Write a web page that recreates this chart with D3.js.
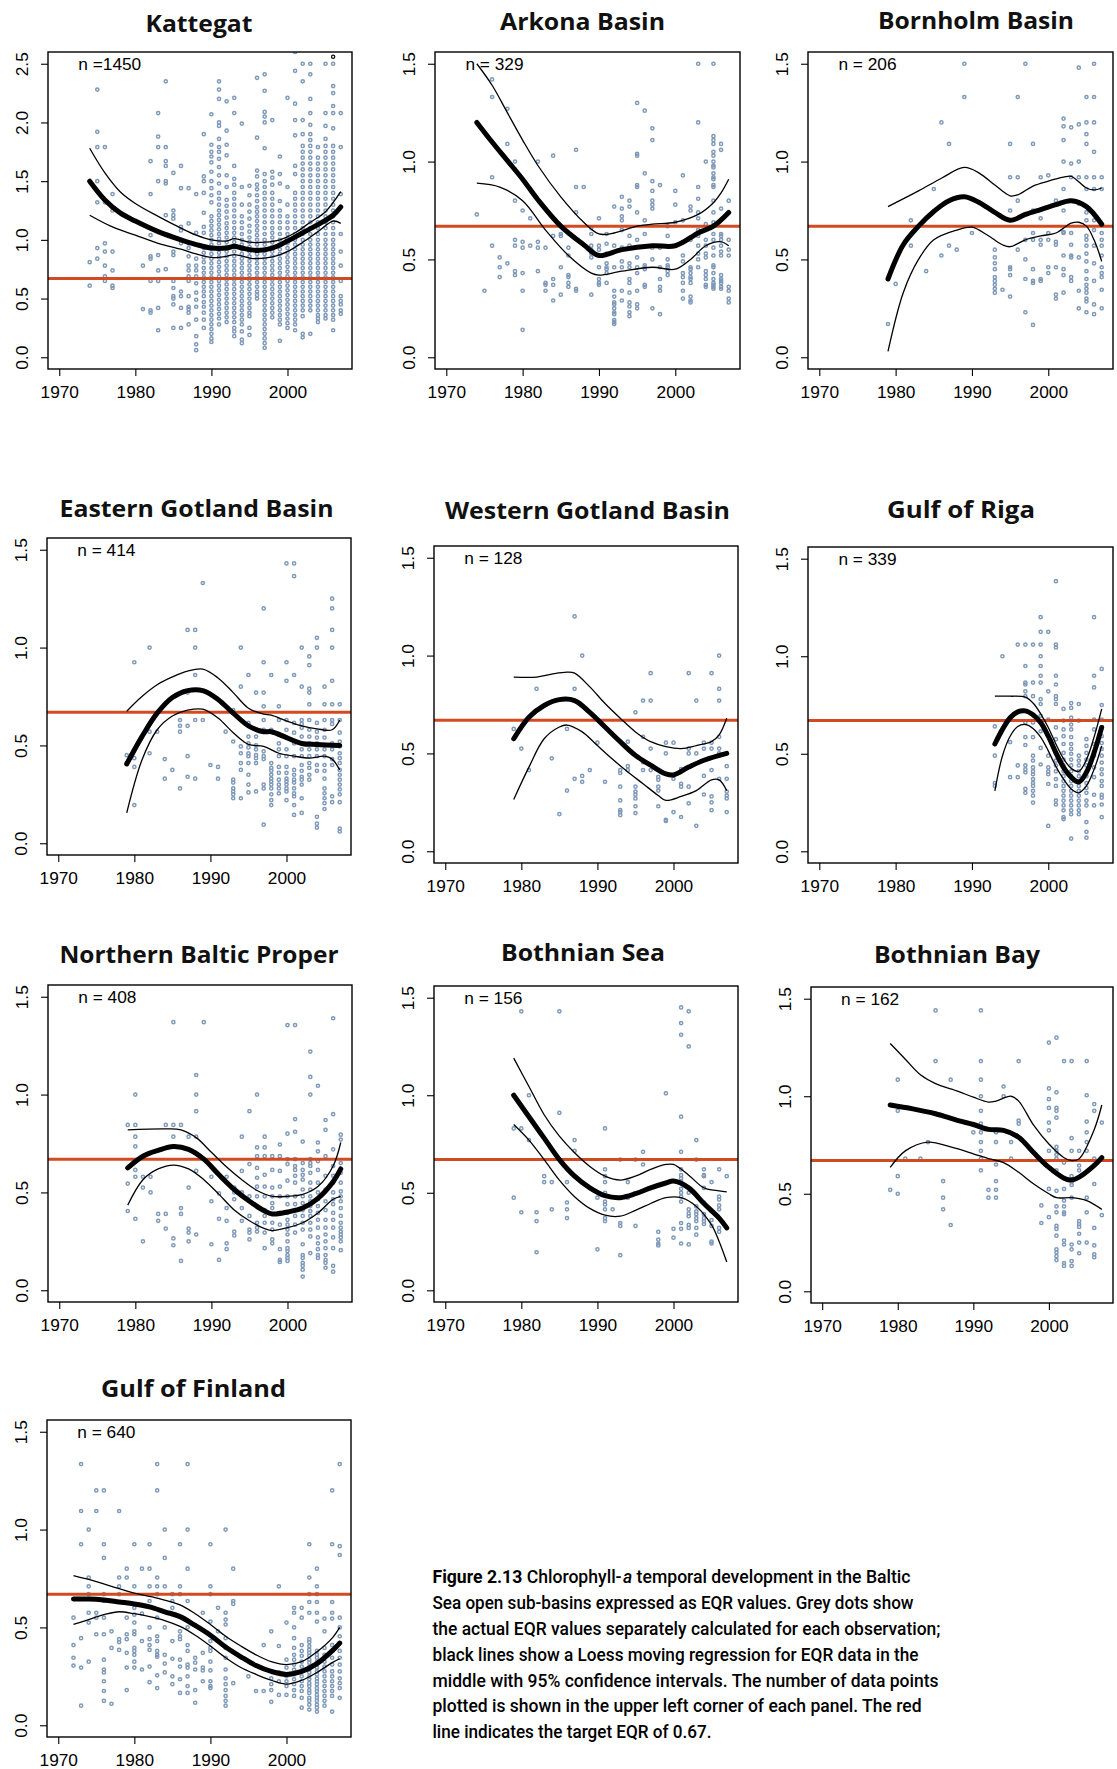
<!DOCTYPE html>
<html>
<head>
<meta charset="utf-8">
<script src="https://cdn.jsdelivr.net/npm/d3@7"></script>
<style>
  body { margin: 0; background: #fff; }
  svg { display: block; }
</style>
</head>
<body>
<svg id="fig" width="1117" height="1769"></svg>
<script>
// ---------------------------------------------------------------
// Chlorophyll-a EQR by sub-basin: observations, Loess fit, 95% CI
// ---------------------------------------------------------------
const basinNames = ["Kattegat", "Arkona Basin", "Bornholm Basin",
  "Eastern Gotland Basin", "Western Gotland Basin", "Gulf of Riga",
  "Northern Baltic Proper", "Bothnian Sea", "Bothnian Bay", "Gulf of Finland"];
const sampleCounts = [1450, 329, 206, 414, 128, 339, 408, 156, 162, 640];
const xTickYears = [1970, 1980, 1990, 2000];
const yTicksWide = [0, 0.5, 1.0, 1.5, 2.0, 2.5];
const yTicksStd = [0, 0.5, 1.0, 1.5];
const targetEQR = 0.67;

// observations: [year, [EQR values]]
const kattegatObs = [
  [1974,[0.81,0.61]],
  [1975,[2.28,1.92,1.79,1.50,1.32,0.93,0.84]],
  [1976,[1.79,1.32,0.97,0.90,0.78,0.69,0.65]],
  [1977,[1.39,1.25,0.90,0.74,0.61,0.59]],
  [1981,[0.78,0.41]],
  [1982,[1.67,1.39,1.04,0.86,0.84,0.65,0.40,0.38]],
  [1983,[2.08,1.88,1.79,1.50,0.87,0.74,0.65,0.42,0.23]],
  [1984,[2.35,1.79,1.67,1.63,1.50,1.48,1.21,0.75]],
  [1985,[1.57,1.25,1.21,1.18,0.90,0.87,0.65,0.59,0.52,0.50,0.45,0.25]],
  [1986,[1.63,1.44,1.11,1.08,0.97,0.56,0.52,0.42,0.25]],
  [1987,[1.44,1.14,0.97,0.93,0.86,0.78,0.74,0.69,0.65,0.52,0.43,0.41,0.38,0.28]],
  [1988,[1.39,1.06,0.84,0.78,0.74,0.69,0.63,0.55,0.49,0.43,0.32,0.18,0.11,0.06]],
  [1989,[1.90,1.54,1.50,1.40,1.23,1.11,1.06,0.93,0.89,0.85,0.81,0.76,0.72,0.68,0.64,0.60,0.56,0.52,0.47,0.43,0.38,0.32,0.25]],
  [1990,[2.07,1.81,1.75,1.71,1.66,1.58,1.50,1.44,1.38,1.32,1.20,1.16,1.12,1.08,1.04,1.00,0.96,0.92,0.88,0.84,0.80,0.76,0.72,0.68,0.64,0.60,0.56,0.52,0.48,0.44,0.40,0.36,0.32,0.28,0.24,0.20,0.16,0.13]],
  [1991,[2.35,2.28,2.20,2.00,1.97,1.86,1.79,1.75,1.69,1.62,1.55,1.48,1.40,1.35,1.30,1.25,1.21,1.17,1.13,1.09,1.05,1.01,0.97,0.93,0.89,0.85,0.81,0.77,0.73,0.69,0.65,0.61,0.57,0.53,0.49,0.45,0.41,0.37,0.33,0.28]],
  [1992,[2.18,1.93,1.81,1.72,1.55,1.45,1.34,1.29,1.24,1.19,1.14,1.10,1.06,1.02,0.98,0.94,0.90,0.86,0.82,0.78,0.74,0.70,0.66,0.62,0.58,0.54,0.50,0.46,0.42,0.38,0.34,0.30]],
  [1993,[2.21,2.08,1.63,1.52,1.47,1.40,1.35,1.30,1.25,1.20,1.15,1.10,1.06,1.02,0.98,0.94,0.90,0.86,0.82,0.78,0.74,0.70,0.66,0.62,0.58,0.54,0.50,0.46,0.42,0.38,0.34,0.30,0.25,0.22,0.18]],
  [1994,[1.99,1.45,1.30,1.20,1.15,1.10,1.05,1.00,0.96,0.92,0.88,0.84,0.80,0.76,0.72,0.68,0.64,0.60,0.56,0.52,0.48,0.44,0.40,0.36,0.32,0.28,0.22,0.15,0.12]],
  [1995,[1.46,1.38,1.30,1.24,1.18,1.12,1.07,1.02,0.98,0.94,0.90,0.86,0.82,0.78,0.74,0.70,0.66,0.62,0.58,0.54,0.50,0.46,0.42,0.38,0.35,0.25,0.19]],
  [1996,[2.38,1.87,1.59,1.54,1.47,1.43,1.38,1.33,1.28,1.24,1.20,1.16,1.12,1.08,1.04,1.00,0.96,0.92,0.88,0.84,0.80,0.76,0.72,0.68,0.64,0.60,0.56,0.53,0.50]],
  [1997,[2.41,2.27,2.09,2.05,2.00,1.78,1.56,1.50,1.45,1.40,1.35,1.30,1.25,1.20,1.15,1.10,1.05,1.00,0.96,0.92,0.88,0.84,0.80,0.76,0.72,0.68,0.64,0.60,0.56,0.52,0.48,0.44,0.40,0.36,0.32,0.28,0.24,0.20,0.16,0.12,0.08]],
  [1998,[2.02,1.58,1.53,1.47,1.40,1.35,1.30,1.25,1.20,1.15,1.10,1.06,1.02,0.98,0.94,0.90,0.86,0.82,0.78,0.74,0.70,0.66,0.62,0.58,0.54,0.50,0.46,0.42,0.38,0.34]],
  [1999,[1.71,1.56,1.48,1.33,1.25,1.20,1.15,1.10,1.05,1.00,0.96,0.92,0.88,0.84,0.80,0.76,0.72,0.68,0.64,0.60,0.56,0.52,0.48,0.44,0.40,0.36,0.32,0.28,0.14]],
  [2000,[2.21,1.45,1.30,1.20,1.15,1.10,1.05,1.01,0.97,0.93,0.89,0.85,0.81,0.77,0.73,0.69,0.65,0.61,0.57,0.53,0.49,0.45,0.41,0.37,0.33,0.29,0.25]],
  [2001,[2.60,2.44,2.16,2.02,1.89,1.63,1.56,1.40,1.35,1.30,1.25,1.20,1.15,1.10,1.05,1.00,0.96,0.92,0.88,0.84,0.80,0.76,0.72,0.68,0.64,0.60,0.56,0.52,0.48,0.44,0.40,0.36,0.32,0.28,0.23]],
  [2002,[2.50,2.35,2.02,1.90,1.80,1.75,1.70,1.65,1.60,1.55,1.50,1.45,1.40,1.35,1.30,1.25,1.20,1.15,1.10,1.05,1.00,0.96,0.92,0.88,0.84,0.80,0.76,0.72,0.68,0.64,0.60,0.56,0.52,0.48,0.44,0.40,0.35,0.20,0.17]],
  [2003,[2.50,2.41,2.20,2.08,1.98,1.90,1.85,1.80,1.75,1.70,1.65,1.60,1.55,1.50,1.45,1.40,1.35,1.30,1.25,1.20,1.15,1.10,1.05,1.00,0.96,0.92,0.88,0.84,0.80,0.76,0.72,0.68,0.64,0.60,0.56,0.52,0.48,0.44,0.40,0.20]],
  [2004,[1.79,1.70,1.65,1.60,1.55,1.50,1.45,1.40,1.35,1.30,1.25,1.20,1.15,1.10,1.05,1.00,0.96,0.92,0.88,0.84,0.80,0.76,0.72,0.68,0.64,0.60,0.56,0.52,0.48,0.44,0.40,0.36,0.33,0.30]],
  [2005,[2.50,2.08,1.97,1.86,1.80,1.75,1.70,1.65,1.60,1.55,1.50,1.45,1.40,1.35,1.30,1.25,1.20,1.15,1.10,1.05,1.00,0.96,0.92,0.88,0.84,0.80,0.76,0.72,0.68,0.64,0.60,0.56,0.52,0.48,0.44,0.40,0.36,0.33]],
  [2006,[2.50,2.31,2.25,2.14,2.08,1.95,1.80,1.75,1.70,1.65,1.60,1.55,1.50,1.45,1.40,1.35,1.30,1.25,1.20,1.15,1.10,1.05,1.00,0.96,0.92,0.88,0.84,0.80,0.76,0.72,0.68,0.64,0.60,0.56,0.52,0.48,0.44,0.40,0.36,0.32,0.23]],
  [2007,[2.08,1.79,1.39,1.05,0.90,0.78,0.65,0.52,0.48,0.45,0.40,0.37]]
];
const kattegatFlagged = [[2006, 2.56]];

const arkonaObs = [
  [1974,[0.73]],[1975,[0.34]],[1976,[1.42,1.33,0.92,0.57]],[1977,[0.51,0.46,0.41]],
  [1978,[1.27,1.09,0.48]],[1979,[1.00,0.96,0.80,0.60,0.57,0.44,0.42]],
  [1980,[0.75,0.59,0.56,0.43,0.34,0.14]],[1981,[0.71,0.57]],[1982,[1.00,0.59,0.56,0.44]],
  [1983,[0.56,0.38,0.37,0.34]],[1984,[1.03,0.62,0.40,0.37,0.29]],[1985,[0.63,0.62,0.46,0.32]],
  [1986,[0.56,0.52,0.42,0.41,0.38,0.36]],[1987,[1.06,0.87,0.74,0.35,0.34]],[1988,[0.87]],
  [1989,[0.66,0.63,0.57,0.55,0.53,0.51,0.32]],[1990,[0.71,0.57,0.55,0.52,0.46,0.40,0.38,0.37]],
  [1991,[0.63,0.58,0.53,0.48,0.46,0.45,0.43,0.38]],
  [1992,[0.77,0.57,0.46,0.34,0.31,0.28,0.27,0.25,0.23,0.22,0.19,0.18,0.17]],
  [1993,[0.82,0.76,0.72,0.70,0.65,0.56,0.49,0.46,0.34,0.29]],
  [1994,[0.80,0.77,0.62,0.57,0.48,0.46,0.40,0.38,0.33,0.28,0.26,0.23,0.21]],
  [1995,[1.30,1.04,1.03,0.88,0.87,0.74,0.60,0.51,0.46,0.43,0.34,0.27,0.25]],
  [1996,[1.26,0.94,0.70,0.63,0.47,0.46,0.45,0.37,0.36]],
  [1997,[1.17,1.11,0.90,0.85,0.80,0.78,0.76,0.56,0.50,0.25]],
  [1998,[0.88,0.56,0.46,0.40,0.36,0.34,0.22]],[1999,[0.67,0.62,0.50,0.47,0.46,0.44,0.42]],
  [2000,[0.85,0.78,0.69]],[2001,[0.93,0.70,0.52,0.49,0.43,0.41,0.38,0.34,0.30]],
  [2002,[0.77,0.75,0.60,0.46,0.45,0.43,0.41,0.40,0.38,0.31,0.29,0.28]],
  [2003,[1.50,1.20,0.87,0.81,0.74,0.71,0.65,0.62,0.57,0.53,0.50,0.46]],
  [2004,[1.00,0.68,0.60,0.57,0.53,0.51,0.44,0.42,0.40,0.37,0.36]],
  [2005,[1.50,1.13,1.11,1.09,1.05,1.03,1.00,0.98,0.97,0.94,0.92,0.91,0.88,0.87,0.80,0.74,0.69,0.63,0.60,0.56,0.52,0.47,0.46,0.43,0.40,0.38,0.37,0.36,0.35]],
  [2006,[1.09,1.06,0.76,0.63,0.62,0.60,0.57,0.54,0.52,0.42,0.40,0.39,0.38,0.36,0.35]],
  [2007,[0.80,0.60,0.55,0.52,0.36,0.34,0.30,0.28]]
];

const bornholmObs = [
  [1979,[0.17]],[1980,[0.375]],[1982,[0.70,0.57]],[1984,[0.44]],[1985,[0.86]],
  [1986,[1.20,0.52]],[1987,[1.09,0.57]],[1988,[0.55]],[1989,[1.50,1.33]],[1990,[0.635]],
  [1993,[0.55,0.51,0.48,0.45,0.41,0.39,0.37,0.35,0.33]],[1994,[0.345]],
  [1995,[1.09,0.92,0.75,0.46,0.45,0.42,0.31]],[1996,[1.33,0.92,0.80,0.55]],
  [1997,[1.50,0.60,0.50,0.40,0.23]],[1998,[1.09,0.75,0.635,0.60,0.45,0.39,0.38,0.165]],
  [1999,[0.92,0.71,0.60,0.575,0.40,0.39]],[2000,[0.93,0.635,0.60,0.46,0.43]],
  [2001,[0.80,0.59,0.575,0.46,0.32,0.30]],
  [2002,[1.22,1.18,1.11,1.00,0.86,0.75,0.64,0.635,0.52,0.45,0.42,0.33]],
  [2003,[1.175,0.99,0.92,0.635,0.575,0.52,0.51,0.41,0.39]],
  [2004,[1.48,1.19,1.00,0.92,0.785,0.51,0.34,0.25]],
  [2005,[1.33,1.20,1.14,1.09,0.92,0.86,0.74,0.70,0.62,0.60,0.57,0.53,0.49,0.44,0.40,0.37,0.35,0.33,0.30,0.285,0.23]],
  [2006,[1.50,1.33,1.20,1.05,0.92,0.86,0.70,0.65,0.57,0.48,0.39,0.27,0.22]],
  [2007,[0.92,0.86,0.635,0.60,0.57,0.52,0.46,0.43,0.41,0.345,0.25]]
];

const eastGotlandObs = [
  [1979,[0.45,0.41]],[1980,[0.925,0.435,0.39,0.195]],[1982,[1.00,0.57,0.46]],[1983,[0.57]],
  [1984,[0.43,0.33]],[1985,[0.375]],[1986,[0.63,0.60,0.57,0.28]],
  [1987,[1.09,0.77,0.60,0.445,0.34]],[1988,[1.09,1.00,0.86,0.63,0.33]],[1989,[1.33,0.63]],
  [1990,[0.40]],[1991,[0.39,0.33]],[1992,[0.57]],
  [1993,[0.68,0.52,0.325,0.31,0.28,0.265,0.25,0.23]],
  [1994,[1.00,0.80,0.495,0.46,0.41,0.375,0.23]],
  [1995,[0.86,0.615,0.545,0.51,0.49,0.46,0.445,0.41,0.35,0.30,0.26]],
  [1996,[0.77,0.545,0.50,0.48,0.45,0.435,0.41,0.265]],
  [1997,[1.20,0.925,0.77,0.70,0.63,0.58,0.47,0.445,0.43,0.30,0.28,0.095]],
  [1998,[0.86,0.58,0.41,0.385,0.37,0.35,0.33,0.315,0.30,0.28,0.25,0.22,0.195]],
  [1999,[0.70,0.63,0.51,0.48,0.445,0.39,0.36,0.325,0.30,0.28,0.255]],
  [2000,[1.43,0.925,0.83,0.63,0.58,0.48,0.445,0.39,0.36,0.33,0.315,0.30,0.28,0.265,0.22]],
  [2001,[1.43,1.365,0.86,0.615,0.565,0.51,0.445,0.375,0.35,0.325,0.31,0.28,0.255,0.24,0.195,0.145]],
  [2002,[1.00,0.80,0.63,0.61,0.59,0.545,0.51,0.48,0.445,0.40,0.37,0.34,0.325,0.30,0.23,0.155]],
  [2003,[0.955,0.91,0.79,0.77,0.71,0.63,0.58,0.545,0.51,0.48,0.445,0.41,0.385,0.35,0.325]],
  [2004,[1.05,1.00,0.615,0.57,0.54,0.51,0.48,0.445,0.40,0.37,0.135,0.10,0.08]],
  [2005,[0.80,0.71,0.63,0.58,0.54,0.48,0.445,0.40,0.37,0.33,0.28,0.255,0.23,0.205,0.175]],
  [2006,[1.25,1.20,1.09,1.00,0.83,0.71,0.63,0.61,0.51,0.48,0.43,0.40,0.24,0.21]],
  [2007,[0.71,0.63,0.565,0.52,0.495,0.46,0.435,0.41,0.375,0.35,0.325,0.30,0.275,0.25,0.21,0.075,0.06]]
];

const westGotlandObs = [
  [1979,[0.625]],[1980,[0.525]],[1981,[0.415]],[1982,[0.83]],[1984,[0.475]],[1985,[0.19]],
  [1986,[0.625,0.31]],[1987,[1.20,0.83,0.37]],[1988,[1.00,0.385,0.355]],[1989,[0.415]],
  [1990,[0.555]],[1991,[0.355]],[1993,[0.415,0.40,0.33,0.26,0.21,0.20,0.185]],
  [1994,[0.56,0.435,0.415]],[1995,[0.71,0.33,0.305,0.29,0.27,0.23,0.195]],
  [1996,[0.77,0.585,0.455,0.415]],[1997,[0.91,0.77,0.525,0.415]],
  [1998,[0.38,0.365,0.33,0.31,0.23]],[1999,[0.555,0.50,0.16,0.155]],[2000,[0.555,0.37,0.20]],
  [2001,[0.42,0.345,0.33,0.175]],[2002,[0.91,0.525,0.50,0.33,0.245]],[2003,[0.77,0.50,0.13]],
  [2004,[0.555,0.525,0.385,0.29]],[2005,[0.91,0.555,0.525,0.415,0.28,0.25,0.21]],
  [2006,[1.00,0.83,0.77,0.585,0.525,0.50,0.37]],[2007,[0.435,0.37,0.305,0.285,0.27,0.20]]
];

const rigaObs = [
  [1993,[0.64,0.49,0.35,0.335]],[1994,[1.00]],[1995,[0.56,0.38]],[1996,[1.06,0.44,0.38]],
  [1997,[1.06,0.95,0.865,0.855,0.82,0.795,0.66,0.585,0.545,0.44,0.42,0.405,0.32,0.30]],
  [1998,[1.06,0.865,0.795,0.66,0.585,0.49,0.465,0.43,0.41,0.395,0.37,0.35,0.335,0.31,0.285,0.25]],
  [1999,[1.20,1.125,1.06,1.00,0.95,0.90,0.865,0.78,0.755,0.695,0.66,0.615,0.53,0.445]],
  [2000,[1.125,0.82,0.675,0.49,0.43,0.41,0.395,0.345,0.13]],
  [2001,[1.385,1.06,1.045,0.90,0.855,0.795,0.78,0.755,0.635,0.575,0.505,0.465,0.44,0.41,0.37,0.335,0.26,0.24]],
  [2002,[0.73,0.67,0.625,0.59,0.55,0.505,0.47,0.44,0.41,0.385,0.36,0.335,0.31,0.285,0.26,0.235,0.21,0.175,0.165]],
  [2003,[0.76,0.735,0.685,0.65,0.625,0.585,0.55,0.525,0.50,0.47,0.44,0.41,0.385,0.36,0.335,0.31,0.285,0.26,0.235,0.21,0.19,0.065]],
  [2004,[0.755,0.67,0.49,0.465,0.44,0.41,0.385,0.36,0.335,0.31,0.285,0.26,0.235,0.21,0.19]],
  [2005,[0.575,0.54,0.505,0.47,0.44,0.385,0.35,0.325,0.30,0.26,0.235,0.15,0.10,0.07]],
  [2006,[1.20,0.90,0.84,0.675,0.625,0.55,0.49,0.43,0.38,0.29,0.235]],
  [2007,[0.935,0.75,0.675,0.635,0.59,0.555,0.525,0.49,0.455,0.42,0.395,0.36,0.335,0.29,0.275,0.24,0.175]]
];

const northProperObs = [
  [1979,[0.845,0.545,0.405]],[1980,[1.00,0.845,0.785,0.735,0.615,0.58,0.365]],
  [1981,[0.58,0.525,0.25]],[1982,[0.58,0.50]],[1983,[0.39,0.355]],[1984,[0.845,0.39,0.315]],
  [1985,[1.37,0.845,0.785,0.265,0.23]],[1986,[0.845,0.42,0.39,0.15]],
  [1987,[0.785,0.525,0.315,0.295,0.25]],[1988,[1.10,1.00,0.915,0.785,0.61,0.285]],[1989,[1.37]],
  [1990,[0.58,0.455,0.235]],[1991,[0.495,0.365,0.155]],[1992,[0.58,0.42,0.355,0.24,0.21]],
  [1993,[0.525,0.50,0.465,0.30,0.28]],[1994,[0.785,0.61,0.50,0.42,0.355]],
  [1995,[0.915,0.645,0.48,0.38,0.31,0.295,0.26]],
  [1996,[1.00,0.73,0.685,0.625,0.575,0.53,0.48,0.345,0.32,0.30]],
  [1997,[0.785,0.73,0.685,0.59,0.53,0.48,0.41,0.38,0.345,0.295,0.215]],
  [1998,[0.685,0.615,0.525,0.48,0.445,0.42,0.345,0.31,0.26,0.24]],
  [1999,[0.745,0.685,0.61,0.53,0.48,0.395,0.335,0.21,0.155,0.145]],
  [2000,[1.355,0.80,0.67,0.645,0.56,0.48,0.44,0.395,0.36,0.335,0.31,0.285,0.25,0.215,0.20,0.18,0.165,0.15]],
  [2001,[1.355,0.875,0.81,0.67,0.635,0.615,0.585,0.55,0.48,0.44,0.41,0.38,0.335,0.295]],
  [2002,[0.76,0.65,0.615,0.59,0.565,0.515,0.48,0.445,0.41,0.38,0.345,0.31,0.235,0.18,0.165,0.14,0.125,0.105,0.07]],
  [2003,[1.22,1.09,1.00,0.67,0.65,0.635,0.60,0.55,0.515,0.48,0.455,0.43,0.405,0.38,0.345,0.31,0.275,0.19]],
  [2004,[1.045,0.755,0.71,0.66,0.615,0.55,0.50,0.465,0.43,0.395,0.36,0.32,0.27,0.24,0.21,0.18,0.165]],
  [2005,[0.87,0.82,0.685,0.585,0.515,0.455,0.41,0.36,0.32,0.285,0.25,0.215,0.18,0.155,0.14,0.115]],
  [2006,[1.39,0.90,0.72,0.635,0.585,0.55,0.50,0.465,0.44,0.395,0.36,0.32,0.27,0.215,0.125,0.095]],
  [2007,[0.795,0.77,0.65,0.60,0.55,0.505,0.48,0.455,0.42,0.38,0.345,0.32,0.30,0.285,0.27,0.25,0.205]]
];

const bothnianSeaObs = [
  [1979,[1.00,0.83,0.475]],[1980,[1.43,0.83,0.40]],[1981,[1.00,0.77]],[1982,[0.40,0.355,0.195]],
  [1983,[0.585,0.555]],[1984,[0.555,0.415]],[1985,[1.43,0.91]],[1986,[0.555,0.45,0.415,0.37]],
  [1987,[0.77,0.715]],[1990,[0.475,0.21]],
  [1991,[0.83,0.62,0.585,0.555,0.50,0.455,0.44,0.415,0.37,0.355]],[1992,[0.415]],
  [1993,[0.67,0.345,0.33,0.18]],[1994,[0.555,0.475]],[1995,[0.67,0.33]],[1996,[0.71,0.645]],
  [1998,[0.30,0.26,0.24,0.23]],[1999,[1.01]],[2000,[0.315,0.27]],
  [2001,[1.45,1.37,1.31,0.89,0.71,0.62,0.59,0.575,0.56,0.52,0.50,0.48,0.455,0.345,0.315,0.24]],
  [2002,[1.43,1.25,0.50,0.415,0.395,0.38,0.335,0.32,0.235]],
  [2003,[0.77,0.67,0.43,0.405,0.39,0.37,0.355,0.32,0.285]],
  [2004,[0.62,0.59,0.585,0.525,0.45,0.39,0.37,0.355,0.34]],
  [2005,[0.555,0.405,0.36,0.33,0.25,0.24]],
  [2006,[0.62,0.48,0.465,0.435,0.415,0.32,0.30]],[2007,[0.585]]
];

const bothnianBayObs = [
  [1979,[0.52]],[1980,[1.085,0.925,0.59,0.50]],[1981,[0.68]],[1983,[0.68]],[1984,[0.765]],
  [1985,[1.44,1.18]],[1986,[0.565,0.48,0.42]],[1987,[1.085,0.34]],[1990,[0.815]],
  [1991,[1.44,1.18,1.085,1.00,0.925,0.86,0.815,0.765,0.72,0.68,0.62]],[1992,[0.52,0.48]],
  [1993,[0.815,0.765,0.65,0.565,0.52,0.48]],[1994,[1.05,1.00]],[1995,[0.765,0.68]],
  [1996,[1.18,0.875,0.86]],[1999,[0.44,0.35]],
  [2000,[1.275,1.04,0.985,0.94,0.865,0.825,0.72,0.525,0.38]],
  [2001,[1.30,1.02,0.94,0.925,0.89,0.74,0.72,0.70,0.68,0.62,0.515,0.435,0.405,0.335,0.32,0.285,0.215,0.20,0.18,0.16]],
  [2002,[1.18,0.66,0.525,0.465,0.435,0.405,0.395,0.26,0.24,0.145,0.13]],
  [2003,[1.18,0.785,0.72,0.59,0.56,0.545,0.48,0.24,0.215,0.155,0.13]],
  [2004,[0.72,0.645,0.62,0.36,0.345,0.33,0.295,0.25,0.195]],
  [2005,[1.18,1.005,0.87,0.815,0.765,0.72,0.48,0.405,0.25]],
  [2006,[0.96,0.925,0.68,0.55,0.325,0.235,0.19,0.175]],[2007,[0.865,0.39]]
];

const finlandObs = [
  [1972,[0.55,0.41,0.345,0.305]],[1973,[1.335,1.095,0.925,0.445,0.295,0.10]],
  [1974,[1.00,0.755,0.71,0.67,0.575,0.525,0.325]],[1975,[1.20,1.095,0.575,0.55,0.465]],
  [1976,[1.20,0.925,0.855,0.67,0.635,0.55,0.465,0.335,0.285,0.27,0.225,0.175,0.125]],
  [1977,[0.48,0.395,0.11]],[1978,[1.095,0.755,0.71,0.67,0.44,0.425,0.385]],
  [1979,[0.80,0.755,0.55,0.465,0.44,0.37,0.295,0.18]],
  [1980,[0.925,0.71,0.60,0.565,0.525,0.48,0.465,0.395,0.38,0.36,0.325,0.295]],
  [1981,[0.80,0.57,0.43,0.285]],[1982,[0.925,0.80,0.71,0.635,0.50,0.44,0.41,0.385,0.30,0.22]],
  [1983,[1.335,1.20,0.755,0.71,0.67,0.55,0.455,0.43,0.38,0.36,0.35,0.255,0.19]],
  [1984,[1.00,0.855,0.71,0.50,0.36,0.315,0.27]],[1985,[0.67,0.635,0.60,0.43,0.34,0.25,0.21]],
  [1986,[0.925,0.71,0.67,0.48,0.455,0.44,0.335,0.30,0.235,0.165]],
  [1987,[1.335,1.00,0.80,0.635,0.50,0.41,0.38,0.31,0.295,0.25,0.20,0.165]],
  [1988,[0.51,0.345,0.32,0.285,0.18,0.115]],[1989,[0.575,0.37,0.295,0.28,0.225]],
  [1990,[0.925,0.71,0.67,0.53,0.43,0.395,0.38,0.325,0.28,0.225,0.20,0.19]],
  [1991,[0.60,0.48]],
  [1992,[1.00,0.575,0.54,0.515,0.445,0.395,0.345,0.285,0.24,0.21,0.18,0.15,0.125,0.10]],
  [1993,[0.80,0.635,0.62,0.215]],[1995,[0.25]],[1996,[0.175]],[1997,[0.41,0.175]],
  [1998,[0.48,0.24,0.21,0.18,0.12]],[1999,[0.71,0.405,0.27,0.225,0.155]],
  [2000,[0.525,0.335,0.295,0.25,0.225,0.20,0.155]],
  [2001,[0.60,0.575,0.50,0.445,0.395,0.36,0.335,0.31,0.285,0.26,0.235,0.21,0.18,0.15]],
  [2002,[0.60,0.55,0.41,0.38,0.355,0.325,0.30,0.275,0.25,0.225,0.20,0.175,0.14,0.09]],
  [2003,[0.925,0.755,0.67,0.63,0.575,0.44,0.425,0.405,0.385,0.37,0.355,0.335,0.32,0.30,0.285,0.27,0.25,0.235,0.215,0.20,0.18,0.165,0.14,0.125,0.105,0.08]],
  [2004,[0.80,0.71,0.67,0.63,0.575,0.53,0.38,0.36,0.345,0.325,0.31,0.295,0.275,0.26,0.24,0.225,0.21,0.19,0.175,0.155,0.14,0.125,0.105,0.09,0.07]],
  [2005,[0.545,0.48,0.395,0.36,0.325,0.30,0.275,0.25,0.225,0.20,0.175,0.15,0.125,0.10]],
  [2006,[1.20,0.925,0.63,0.575,0.545,0.41,0.38,0.345,0.31,0.275,0.25,0.225,0.20,0.175,0.15,0.07]],
  [2007,[1.335,0.915,0.87,0.55,0.50,0.455,0.42,0.38,0.345,0.31,0.275,0.24,0.215,0.19,0.14]]
];

// Loess fit and 95% confidence band: [year, EQR]
const kattegatFit = [[1974,1.50],[1976,1.34],[1978,1.23],[1980,1.16],[1983,1.07],[1986,1.00],[1988,0.96],[1990,0.93],[1992,0.93],[1993,0.945],[1994,0.93],[1996,0.91],[1998,0.93],[2000,0.99],[2002,1.06],[2004,1.13],[2006,1.21],[2007,1.28]];
const kattegatHi = [[1974,1.78],[1976,1.57],[1978,1.41],[1980,1.31],[1983,1.20],[1986,1.10],[1988,1.04],[1990,1.00],[1992,0.99],[1993,1.01],[1995,0.98],[1997,0.98],[1999,1.00],[2001,1.06],[2003,1.15],[2005,1.24],[2007,1.41]];
const kattegatLo = [[1974,1.21],[1977,1.11],[1980,1.04],[1983,0.97],[1986,0.92],[1988,0.88],[1990,0.85],[1992,0.86],[1993,0.875],[1995,0.845],[1996,0.84],[1998,0.855],[2000,0.90],[2002,0.98],[2004,1.07],[2006,1.16],[2007,1.14]];

const arkonaFit = [[1974,1.20],[1976,1.10],[1978,1.005],[1980,0.91],[1982,0.805],[1985,0.67],[1988,0.575],[1990,0.52],[1993,0.55],[1997,0.57],[2000,0.57],[2003,0.635],[2005,0.67],[2007,0.74]];
const arkonaHi = [[1974,1.50],[1976,1.39],[1978,1.25],[1980,1.11],[1982,0.98],[1985,0.82],[1988,0.69],[1990,0.63],[1992,0.635],[1995,0.67],[1997,0.68],[2000,0.69],[2003,0.73],[2005,0.79],[2006,0.84],[2007,0.91]];
const arkonaLo = [[1974,0.89],[1977,0.87],[1980,0.80],[1983,0.65],[1986,0.52],[1989,0.43],[1990,0.42],[1993,0.44],[1997,0.46],[2000,0.45],[2002,0.50],[2004,0.57],[2006,0.59],[2007,0.57]];

const bornholmFit = [[1979,0.40],[1981,0.575],[1983,0.67],[1985,0.745],[1987,0.80],[1989,0.82],[1991,0.79],[1993,0.74],[1995,0.70],[1997,0.73],[1999,0.755],[2001,0.78],[2003,0.80],[2005,0.77],[2007,0.68]];
const bornholmHi = [[1979,0.77],[1983,0.85],[1986,0.915],[1989,0.97],[1991,0.94],[1993,0.88],[1995,0.825],[1996,0.83],[1998,0.875],[2000,0.90],[2002,0.92],[2003,0.925],[2005,0.865],[2006,0.855],[2007,0.865]];
const bornholmLo = [[1979,0.03],[1981,0.33],[1983,0.50],[1985,0.60],[1988,0.65],[1990,0.665],[1992,0.625],[1994,0.575],[1995,0.565],[1997,0.60],[1999,0.62],[2001,0.635],[2003,0.685],[2004,0.69],[2005,0.67],[2006,0.60],[2007,0.49]];

const eastGotlandFit = [[1979,0.405],[1981,0.545],[1983,0.665],[1985,0.745],[1987,0.78],[1989,0.78],[1991,0.735],[1993,0.665],[1995,0.60],[1997,0.57],[1998,0.57],[2000,0.54],[2002,0.51],[2004,0.505],[2007,0.50]];
const eastGotlandHi = [[1979,0.675],[1981,0.75],[1983,0.81],[1985,0.85],[1987,0.88],[1989,0.89],[1991,0.845],[1993,0.77],[1995,0.69],[1997,0.66],[1998,0.655],[2000,0.625],[2002,0.60],[2004,0.585],[2006,0.58],[2007,0.63]];
const eastGotlandLo = [[1979,0.155],[1981,0.425],[1983,0.58],[1985,0.65],[1987,0.68],[1989,0.685],[1991,0.64],[1993,0.565],[1995,0.505],[1997,0.495],[1999,0.46],[2001,0.445],[2003,0.435],[2005,0.445],[2006,0.43],[2007,0.375]];

const westGotlandFit = [[1979,0.575],[1981,0.685],[1983,0.745],[1985,0.775],[1987,0.77],[1989,0.71],[1991,0.635],[1993,0.56],[1995,0.49],[1997,0.44],[1999,0.395],[2000,0.39],[2002,0.43],[2004,0.465],[2007,0.50]];
const westGotlandHi = [[1979,0.89],[1982,0.89],[1984,0.905],[1986,0.915],[1987,0.91],[1989,0.84],[1991,0.755],[1993,0.68],[1995,0.61],[1997,0.56],[1999,0.535],[2001,0.525],[2003,0.54],[2005,0.56],[2006,0.595],[2007,0.68]];
const westGotlandLo = [[1979,0.265],[1981,0.43],[1983,0.575],[1985,0.635],[1986,0.645],[1988,0.61],[1990,0.54],[1992,0.47],[1994,0.405],[1996,0.345],[1998,0.285],[1999,0.26],[2001,0.28],[2003,0.31],[2005,0.365],[2006,0.365],[2007,0.31]];

const rigaFit = [[1993,0.55],[1994,0.625],[1995,0.685],[1996,0.715],[1997,0.72],[1998,0.70],[1999,0.66],[2000,0.59],[2001,0.505],[2002,0.43],[2003,0.38],[2004,0.355],[2005,0.405],[2006,0.505],[2007,0.635]];
const rigaHi = [[1993,0.795],[1995,0.795],[1997,0.79],[1998,0.76],[1999,0.705],[2000,0.635],[2001,0.55],[2002,0.475],[2003,0.425],[2004,0.41],[2005,0.47],[2006,0.585],[2007,0.73]];
const rigaLo = [[1993,0.31],[1994,0.49],[1995,0.59],[1996,0.64],[1997,0.65],[1998,0.63],[1999,0.585],[2000,0.515],[2001,0.435],[2002,0.37],[2003,0.32],[2004,0.30],[2005,0.335],[2006,0.42],[2007,0.54]];

const northProperFit = [[1979,0.625],[1981,0.685],[1983,0.715],[1985,0.735],[1987,0.72],[1989,0.67],[1991,0.59],[1993,0.515],[1995,0.455],[1997,0.405],[1998,0.39],[2000,0.40],[2002,0.42],[2004,0.47],[2006,0.555],[2007,0.62]];
const northProperHi = [[1979,0.82],[1984,0.825],[1986,0.82],[1988,0.78],[1990,0.705],[1992,0.63],[1994,0.565],[1996,0.51],[1998,0.48],[2000,0.48],[2002,0.49],[2004,0.53],[2006,0.635],[2007,0.755]];
const northProperLo = [[1979,0.435],[1981,0.565],[1983,0.62],[1985,0.64],[1987,0.62],[1989,0.565],[1991,0.49],[1993,0.41],[1995,0.355],[1997,0.315],[1998,0.305],[2000,0.32],[2002,0.345],[2004,0.395],[2006,0.465],[2007,0.48]];

const bothnianSeaFit = [[1979,1.00],[1981,0.89],[1983,0.78],[1985,0.67],[1987,0.585],[1989,0.525],[1991,0.485],[1993,0.475],[1995,0.495],[1997,0.525],[1999,0.55],[2000,0.56],[2002,0.525],[2004,0.445],[2006,0.37],[2007,0.32]];
const bothnianSeaHi = [[1979,1.19],[1981,1.045],[1983,0.90],[1985,0.79],[1987,0.705],[1989,0.635],[1991,0.585],[1993,0.565],[1995,0.585],[1997,0.62],[1999,0.645],[2000,0.645],[2002,0.59],[2004,0.525],[2006,0.51],[2007,0.505]];
const bothnianSeaLo = [[1979,0.85],[1981,0.77],[1983,0.67],[1985,0.565],[1987,0.48],[1989,0.42],[1991,0.385],[1993,0.38],[1995,0.41],[1997,0.445],[1999,0.475],[2001,0.475],[2003,0.43],[2005,0.335],[2006,0.25],[2007,0.145]];

const bothnianBayFit = [[1979,0.955],[1982,0.935],[1985,0.91],[1988,0.875],[1990,0.855],[1992,0.83],[1994,0.825],[1996,0.79],[1998,0.71],[2000,0.635],[2002,0.58],[2003,0.57],[2004,0.585],[2006,0.645],[2007,0.685]];
const bothnianBayHi = [[1979,1.27],[1981,1.19],[1983,1.11],[1985,1.065],[1988,1.025],[1990,0.995],[1992,0.97],[1993,0.975],[1995,1.00],[1996,0.975],[1998,0.85],[2000,0.755],[2002,0.685],[2003,0.67],[2004,0.68],[2006,0.83],[2007,0.955]];
const bothnianBayLo = [[1979,0.635],[1981,0.72],[1984,0.765],[1987,0.74],[1990,0.705],[1992,0.68],[1994,0.66],[1996,0.61],[1998,0.55],[2000,0.50],[2001,0.48],[2003,0.48],[2005,0.465],[2007,0.42]];

const finlandFit = [[1972,0.645],[1974,0.645],[1976,0.64],[1978,0.63],[1980,0.62],[1982,0.605],[1984,0.58],[1986,0.555],[1988,0.51],[1990,0.46],[1992,0.40],[1994,0.35],[1996,0.305],[1998,0.275],[2000,0.26],[2002,0.275],[2004,0.315],[2006,0.38],[2007,0.42]];
const finlandHi = [[1972,0.765],[1974,0.745],[1977,0.71],[1980,0.675],[1983,0.65],[1986,0.615],[1988,0.57],[1990,0.515],[1992,0.455],[1994,0.405],[1996,0.36],[1998,0.325],[2000,0.31],[2002,0.325],[2004,0.375],[2006,0.445],[2007,0.50]];
const finlandLo = [[1972,0.515],[1974,0.54],[1976,0.565],[1978,0.58],[1980,0.57],[1982,0.555],[1984,0.535],[1986,0.505],[1988,0.46],[1990,0.405],[1992,0.345],[1994,0.295],[1996,0.26],[1998,0.23],[2000,0.21],[2002,0.23],[2004,0.27],[2006,0.32],[2007,0.34]];

const captionLines = [
  [["Figure 2.13 ", "bold"], ["Chlorophyll-", ""], ["a", "italic"], [" temporal development in the Baltic", ""]],
  [["Sea open sub-basins expressed as EQR values. Grey dots show", ""]],
  [["the actual EQR values separately calculated for each observation;", ""]],
  [["black lines show a Loess moving regression for EQR data in the", ""]],
  [["middle with 95% confidence intervals. The number of data points", ""]],
  [["plotted is shown in the upper left corner of each panel. The red", ""]],
  [["line indicates the target EQR of 0.67.", ""]]
];

// ---------------------------------------------------------------
// Panel series bundled per basin
// ---------------------------------------------------------------
const series = [
  {obs: kattegatObs, fit: kattegatFit, lo: kattegatLo, hi: kattegatHi, flagged: kattegatFlagged, ticks: yTicksWide},
  {obs: arkonaObs, fit: arkonaFit, lo: arkonaLo, hi: arkonaHi, ticks: yTicksStd},
  {obs: bornholmObs, fit: bornholmFit, lo: bornholmLo, hi: bornholmHi, ticks: yTicksStd},
  {obs: eastGotlandObs, fit: eastGotlandFit, lo: eastGotlandLo, hi: eastGotlandHi, ticks: yTicksStd},
  {obs: westGotlandObs, fit: westGotlandFit, lo: westGotlandLo, hi: westGotlandHi, ticks: yTicksStd},
  {obs: rigaObs, fit: rigaFit, lo: rigaLo, hi: rigaHi, ticks: yTicksStd},
  {obs: northProperObs, fit: northProperFit, lo: northProperLo, hi: northProperHi, ticks: yTicksStd},
  {obs: bothnianSeaObs, fit: bothnianSeaFit, lo: bothnianSeaLo, hi: bothnianSeaHi, ticks: yTicksStd},
  {obs: bothnianBayObs, fit: bothnianBayFit, lo: bothnianBayLo, hi: bothnianBayHi, ticks: yTicksStd},
  {obs: finlandObs, fit: finlandFit, lo: finlandLo, hi: finlandHi, ticks: yTicksStd}
];

// Page layout: plot boxes [x0, y0, x1, y1] and title placement
const layout = [
  {box: [48, 52, 352, 369],    titleX: 199,   titleY: 32,   titleW: 107},
  {box: [435, 52, 740, 369],   titleX: 582.5, titleY: 30,   titleW: 165},
  {box: [808, 52, 1113, 369],  titleX: 976,   titleY: 29,   titleW: 196},
  {box: [47, 538, 351, 855],   titleX: 196.5, titleY: 517,  titleW: 274},
  {box: [434, 546, 738, 863],  titleX: 587.5, titleY: 519,  titleW: 285},
  {box: [808, 547, 1113, 863], titleX: 961,   titleY: 518,  titleW: 148},
  {box: [48, 985, 352, 1302],  titleX: 199,   titleY: 963,  titleW: 279},
  {box: [434, 986, 738, 1302], titleX: 583,   titleY: 961,  titleW: 164},
  {box: [811, 987, 1113, 1303],titleX: 957,   titleY: 963,  titleW: 166},
  {box: [47, 1420, 351, 1737], titleX: 193.5, titleY: 1397, titleW: 185}
];

const style = {
  dot: "#7e99ba",
  target: "#d24a1f",
  axisFont: "'Liberation Sans', Arial, Helvetica, sans-serif",
  titleFont: "'Open Sans', 'Noto Sans', sans-serif",
  captionFont: "Roboto, 'Open Sans', sans-serif"
};

const svg = d3.select("#fig");
const xLimits = [1970, 2007];          // padded by 4% like base graphics
const pad = (a, b) => [a - 0.04 * (b - a), b + 0.04 * (b - a)];

series.forEach((s, i) => {
  const L = layout[i];
  const [x0, y0, x1, y1] = L.box;
  const yTop = s.ticks[s.ticks.length - 1];
  const x = d3.scaleLinear().domain(pad(xLimits[0], xLimits[1])).range([x0, x1]);
  const y = d3.scaleLinear().domain(pad(0, yTop)).range([y1, y0]);
  const g = svg.append("g");

  const clipId = "clip" + i;
  g.append("clipPath").attr("id", clipId)
    .append("rect").attr("x", x0).attr("y", y0).attr("width", x1 - x0).attr("height", y1 - y0);
  const plot = g.append("g").attr("clip-path", `url(#${clipId})`);

  // observations
  const pts = s.obs.flatMap(([yr, vals]) => vals.map(v => [yr, v]));
  plot.selectAll("circle.obs").data(pts).join("circle")
    .attr("class", "obs")
    .attr("cx", d => x(d[0])).attr("cy", d => y(d[1]))
    .attr("r", 1.6)
    .attr("fill", "none").attr("stroke", style.dot).attr("stroke-width", 1.5);
  if (s.flagged) {
    plot.selectAll("circle.flag").data(s.flagged).join("circle")
      .attr("class", "flag")
      .attr("cx", d => x(d[0])).attr("cy", d => y(d[1]))
      .attr("r", 1.6).attr("fill", "none").attr("stroke", "#111").attr("stroke-width", 1.3);
  }

  // target EQR
  plot.append("line")
    .attr("x1", x0).attr("x2", x1).attr("y1", y(targetEQR)).attr("y2", y(targetEQR))
    .attr("stroke", style.target).attr("stroke-width", 3);

  // Loess fit and confidence band
  const line = d3.line().x(d => x(d[0])).y(d => y(d[1])).curve(d3.curveCatmullRom.alpha(0.5));
  [s.lo, s.hi].forEach(band => {
    plot.append("path").attr("d", line(band))
      .attr("fill", "none").attr("stroke", "#000").attr("stroke-width", 1.3);
  });
  plot.append("path").attr("d", line(s.fit))
    .attr("fill", "none").attr("stroke", "#000").attr("stroke-width", 5)
    .attr("stroke-linecap", "round").attr("stroke-linejoin", "round");

  // axes
  const xAxis = g.append("g").attr("transform", `translate(0,${y1})`)
    .call(d3.axisBottom(x).tickValues(xTickYears).tickSize(7).tickSizeOuter(0).tickFormat(d3.format("d")));
  xAxis.select(".domain").remove();
  xAxis.selectAll("line").attr("stroke", "#000").attr("stroke-width", 1.1);
  xAxis.selectAll("text").attr("y", 29).attr("dy", null)
    .attr("font-family", style.axisFont).attr("font-size", 17.3).attr("fill", "#000");

  const yAxis = g.append("g").attr("transform", `translate(${x0},0)`)
    .call(d3.axisLeft(y).tickValues(s.ticks).tickSize(7).tickSizeOuter(0).tickFormat(d3.format(".1f")));
  yAxis.select(".domain").remove();
  yAxis.selectAll("line").attr("stroke", "#000").attr("stroke-width", 1.1);
  yAxis.selectAll("text")
    .attr("x", null).attr("dy", null)
    .attr("transform", "translate(-20.5,0) rotate(-90)")
    .attr("text-anchor", "middle")
    .attr("font-family", style.axisFont).attr("font-size", 17.3).attr("fill", "#000");

  // frame
  g.append("rect").attr("x", x0).attr("y", y0).attr("width", x1 - x0).attr("height", y1 - y0)
    .attr("fill", "none").attr("stroke", "#000").attr("stroke-width", 1.4);

  // sample size
  const n = sampleCounts[i];
  g.append("text")
    .attr("x", x(1972.5)).attr("y", y(yTop) + 6)
    .attr("font-family", style.axisFont).attr("font-size", 17.3).attr("fill", "#000")
    .text(n >= 1000 ? `n =${n}` : `n = ${n}`);

  // title
  g.append("text")
    .attr("x", L.titleX).attr("y", L.titleY)
    .attr("text-anchor", "middle")
    .attr("font-family", style.titleFont).attr("font-weight", 700).attr("font-size", 23.5)
    .attr("textLength", L.titleW).attr("lengthAdjust", "spacingAndGlyphs")
    .attr("fill", "#111")
    .text(basinNames[i]);
});

// caption: each line is one text run; styled words are inline spans
const capWidths = [478, 481, 508, 486, 506, 489, 279];
const capBase = [1583, 1609, 1635, 1661, 1687, 1712, 1738];
captionLines.forEach((parts, k) => {
  const t = svg.append("text")
    .attr("x", 432.5).attr("y", capBase[k])
    .attr("font-family", style.captionFont).attr("font-size", 18.5).attr("font-weight", 500)
    .attr("fill", "#000")
    .attr("textLength", capWidths[k]).attr("lengthAdjust", "spacingAndGlyphs");
  parts.forEach(([txt, kind]) => {
    const ts = t.append("tspan").text(txt);
    if (kind === "bold") ts.attr("font-weight", 700);
    if (kind === "italic") ts.attr("font-style", "italic").attr("dx", 1.5);
  });
});
</script>
</body>
</html>
